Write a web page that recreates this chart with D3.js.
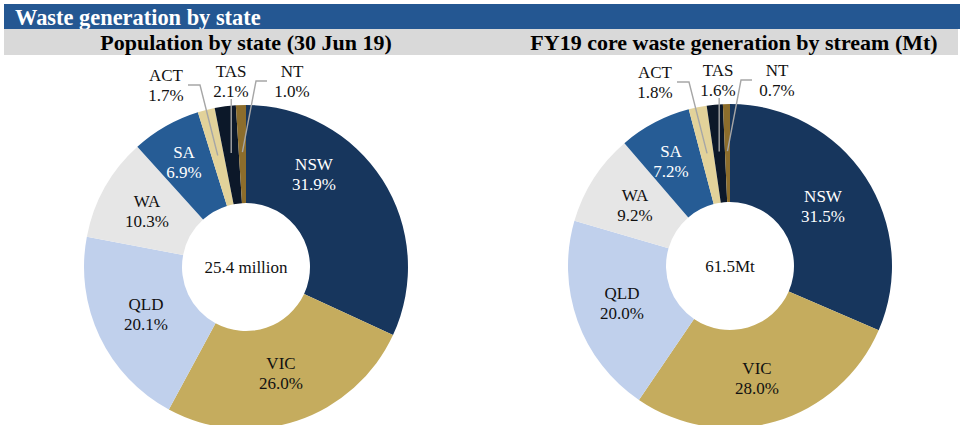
<!DOCTYPE html>
<html><head><meta charset="utf-8">
<script src="https://cdn.jsdelivr.net/npm/d3@7"></script>
<style>
html,body{margin:0;padding:0;background:#fff;}
svg{display:block;}
svg text{font-family:"Liberation Serif","Times New Roman",serif;}
</style></head>
<body>
<svg id="chart" width="960" height="425"></svg>
<script>
// ---- data ----
const states = ["NSW","VIC","QLD","WA","SA","ACT","TAS","NT"];
const populationShare = [31.9, 26.0, 20.1, 10.3, 6.9, 1.7, 2.1, 1.0];
const wasteShare = [31.5, 28.0, 20.0, 9.2, 7.2, 1.8, 1.6, 0.7];
const mainTitle = "Waste generation by state";
const panelTitles = ["Population by state (30 Jun 19)", "FY19 core waste generation by stream (Mt)"];
const centerLabels = ["25.4 million", "61.5Mt"];

// ---- styles / layout ----
const FONT = "'Liberation Serif','Times New Roman',serif";
const colors = ["#17365D","#C5AC5E","#C0D0EC","#E6E6E6","#265C95","#E2D29A","#0C1829","#8C6D2C"];
const labelColors = ["#fff","#111","#111","#111","#fff","#111","#111","#111"];
const outsideStates = ["ACT","TAS","NT"];
const panels = [
  {cx:246, cy:267, titleX:246,
   offsets:[[68,-93],[35,106],[-100,47],[-99,-56],[-62,-105],[-80,-182],[-15,-186],[46,-186]]},
  {cx:730, cy:266, titleX:734,
   offsets:[[93,-60],[27,112],[-108,37],[-95,-61],[-59,-105],[-75,-184],[-12,-186],[47,-186]]}
];
const outerR = 162, innerR = 64, leaderR = 115;

const svg = d3.select("#chart");

// header
svg.append("rect").attr("x",4).attr("y",4).attr("width",956).attr("height",25).attr("fill","#245792");
svg.append("text").attr("x",15).attr("y",25).attr("fill","#fff").attr("font-family",FONT)
  .attr("font-size",22.4).attr("font-weight","bold").text(mainTitle);
svg.append("rect").attr("x",4).attr("y",29).attr("width",954).attr("height",26).attr("fill","#D9D9D9");

const pie = d3.pie().sort(null).value(d => d);
const arc = d3.arc().innerRadius(innerR).outerRadius(outerR);
const leaderArc = d3.arc().innerRadius(leaderR).outerRadius(leaderR);

[populationShare, wasteShare].forEach((vals, pi) => {
  const P = panels[pi];
  const arcs = pie(vals);
  const g = svg.append("g").attr("transform", `translate(${P.cx},${P.cy})`);

  g.selectAll("path.slice").data(arcs).enter().append("path")
    .attr("class","slice")
    .attr("d", arc)
    .attr("fill", (d,i) => colors[i]);

  // center label
  g.append("text").attr("text-anchor","middle").attr("dy","0.35em").attr("font-family",FONT)
    .attr("font-size",17).attr("fill","#111").text(centerLabels[pi]);

  // leader lines for small slices
  arcs.forEach((d,i) => {
    const st = states[i];
    if (!outsideStates.includes(st)) return;
    const [ex, ey] = leaderArc.centroid(d);
    const [lx, ly] = P.offsets[i];
    let pts;
    if (st === "ACT") pts = [[lx+22, ly], [lx+34, ly], [ex, ey]];
    else if (st === "TAS") pts = [[ex, ly+18], [ex, ey]];
    else pts = [[lx-25, ly], [lx-36, ly], [ex, ey]];
    g.append("path").attr("d", d3.line()(pts))
      .attr("fill","none").attr("stroke","#A6A6A6").attr("stroke-width",1.4);
  });

  // slice labels
  arcs.forEach((d,i) => {
    const [lx, ly] = P.offsets[i];
    const t = g.append("text").attr("text-anchor","middle").attr("font-family",FONT)
      .attr("font-size",17).attr("fill", labelColors[i])
      .attr("transform", `translate(${lx},${ly})`);
    t.append("tspan").attr("x",0).attr("dy","-0.22em").text(states[i]);
    t.append("tspan").attr("x",0).attr("dy","1.15em").text(d3.format(".1f")(vals[i]) + "%");
  });

  // panel title
  svg.append("text").attr("x", P.titleX).attr("y", 50).attr("text-anchor","middle").attr("font-family",FONT)
    .attr("font-size",22).attr("font-weight","bold").attr("fill","#000").text(panelTitles[pi]);
});
</script>
</body></html>
